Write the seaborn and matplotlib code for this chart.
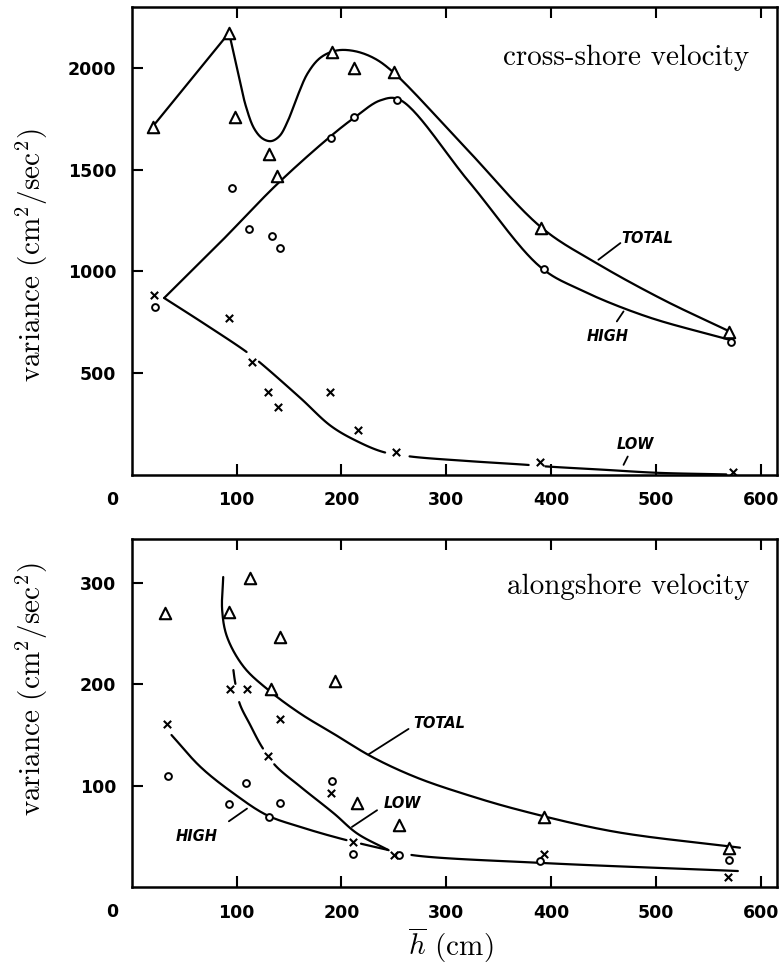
import numpy as np
import pandas as pd
import matplotlib
matplotlib.use("Agg")
import matplotlib.pyplot as plt
import seaborn as sns

# ---------------- data ----------------
# cross-shore velocity: measured variances
cs_tot_h = [20, 93, 99, 131, 139, 191, 212, 250, 390, 570]
cs_tot_v = [1711, 2173, 1760, 1578, 1470, 2080, 2001, 1978, 1214, 703]
cs_high_h = [22, 96, 112, 134, 141, 190, 212, 253, 393, 571]
cs_high_v = [826, 1411, 1209, 1175, 1116, 1657, 1760, 1843, 1012, 654]
cs_low_h = [21, 93, 115, 130, 140, 189, 216, 252, 389, 573]
cs_low_v = [885, 772, 556, 408, 334, 408, 221, 113, 64, 15]

# cross-shore hand-drawn curves (knots)
cs_tot_line_a_h = [20, 93]
cs_tot_line_a_v = [1711, 2173]
cs_tot_line_b_h = [93, 101, 109, 117, 125, 133, 141, 149, 158, 168, 180, 195, 212, 231, 250, 320, 391, 443, 507, 570]
cs_tot_line_b_v = [2170, 1985, 1810, 1700, 1652, 1640, 1665, 1740, 1860, 1975, 2050, 2085, 2083, 2048, 1976, 1598, 1214, 1041, 860, 705]
cs_high_line_h = [31, 85, 139, 189.5, 213, 237, 255, 322, 390, 428, 491, 570]
cs_high_line_v = [869, 1145, 1430, 1663, 1758, 1840, 1845, 1438, 1020, 909, 778, 664]
cs_low_line_h = [31, 70, 109, 123, 161, 190, 215, 240, 266, 320, 377, 396, 450, 501, 567]
cs_low_line_v = [869, 740, 606, 549, 377, 240, 165, 112, 90, 68, 49, 41, 25, 10, 2]
cs_low_gaps = [(110, 121), (242, 264), (379, 394)]

# alongshore velocity: measured variances
as_tot_h = [32, 93, 113, 133, 141, 194, 215, 255, 393, 570]
as_tot_v = [270, 271, 305, 195, 247, 203, 83, 61, 69, 39]
as_high_h = [35, 93, 109, 131, 141, 191, 211, 255, 389, 570]
as_high_v = [110, 82, 103, 69, 83, 105, 33, 32, 26, 27]
as_low_h = [34, 94, 110, 130, 141, 190, 211, 250, 393, 569]
as_low_v = [161, 195, 195, 129, 166, 93, 45, 32, 33, 10]

# alongshore hand-drawn curves (knots)
as_tot_line_h = [87.3, 86.3, 91, 107, 130.8, 161, 193, 230, 272, 320, 370, 459, 580]
as_tot_line_v = [305.7, 273, 246.6, 217, 194, 171, 151, 128, 108, 91, 76, 55, 39]
as_high_line_h = [38, 65.7, 97.4, 129, 161, 199, 243.5, 269, 390, 578]
as_high_line_v = [150, 118.5, 92.3, 71, 59.4, 48, 37, 31.5, 24, 16]
as_high_gaps = [(205, 218), (245, 266)]
as_low_line_h = [97, 98.5, 103, 113, 124.4, 137, 161, 193, 215, 245]
as_low_line_v = [214, 203, 181, 160, 138, 120, 99, 72.6, 53, 36.5]
as_low_gaps = [(99, 102.5), (125.5, 135.5)]

x_ticks = [100, 200, 300, 400, 500, 600]
cs_y_ticks = [500, 1000, 1500, 2000]
as_y_ticks = [100, 200, 300]

# ---------------- style ----------------
sns.set_theme(style="ticks")
plt.rcParams["font.family"] = ["DejaVu Sans"]
plt.rcParams["mathtext.fontset"] = "cm"
plt.rcParams["text.color"] = "black"

SERIF = "cmr10"
SERIF_SIZE = 21
TICKFONT = dict(family="DejaVu Sans", weight="bold", size=12.5, color="black")
LABFONT = dict(family="DejaVu Sans", weight="bold", style="italic", size=10.5, color="black")

XMAX = 615
AX_W_PX = 0.828 * 779


def catmull(xs, ys, sx, sy, n=30, alpha=0.5):
    P = np.column_stack([np.asarray(xs, float) * sx, np.asarray(ys, float) * sy])
    P = np.vstack([2 * P[0] - P[1], P, 2 * P[-1] - P[-2]])
    out = []
    for i in range(1, len(P) - 2):
        p0, p1, p2, p3 = P[i - 1], P[i], P[i + 1], P[i + 2]
        t0 = 0.0
        t1 = t0 + max(np.linalg.norm(p1 - p0), 1e-6) ** alpha
        t2 = t1 + max(np.linalg.norm(p2 - p1), 1e-6) ** alpha
        t3 = t2 + max(np.linalg.norm(p3 - p2), 1e-6) ** alpha
        t = np.linspace(t1, t2, n, endpoint=False)[:, None]
        a1 = (t1 - t) / (t1 - t0) * p0 + (t - t0) / (t1 - t0) * p1
        a2 = (t2 - t) / (t2 - t1) * p1 + (t - t1) / (t2 - t1) * p2
        a3 = (t3 - t) / (t3 - t2) * p2 + (t - t2) / (t3 - t2) * p3
        b1 = (t2 - t) / (t2 - t0) * a1 + (t - t0) / (t2 - t0) * a2
        b2 = (t3 - t) / (t3 - t1) * a2 + (t - t1) / (t3 - t1) * a3
        c = (t2 - t) / (t2 - t1) * b1 + (t - t1) / (t2 - t1) * b2
        out.append(c)
    out.append(P[-2][None, :])
    pts = np.vstack(out)
    return pts[:, 0] / sx, pts[:, 1] / sy


def draw_curve(ax, xs, ys, gaps=()):
    ymax = ax.get_ylim()[1]
    h_px = ax.get_position().height * 975
    sx = AX_W_PX / XMAX
    sy = h_px / ymax
    px, py = catmull(xs, ys, sx, sy)
    keep = np.ones(len(px), bool)
    for a, b in gaps:
        keep &= ~((px > a) & (px < b))
    ids = np.cumsum(~keep)
    df = pd.DataFrame({"h": px[keep], "v": py[keep], "seg": ids[keep]})
    sns.lineplot(data=df, x="h", y="v", units="seg", estimator=None, sort=False,
                 color="black", lw=1.6, ax=ax, legend=False)


def draw_points(ax, h, v, kind):
    df = pd.DataFrame({"h": h, "v": v})
    if kind == "tri":
        sns.scatterplot(data=df, x="h", y="v", marker="^", s=68, facecolor="white",
                        edgecolor="black", linewidth=1.5, ax=ax, zorder=5)
    elif kind == "cir":
        sns.scatterplot(data=df, x="h", y="v", marker="o", s=24, facecolor="white",
                        edgecolor="black", linewidth=1.4, ax=ax, zorder=5)
    else:
        sns.scatterplot(data=df, x="h", y="v", marker="x", s=28, color="black",
                        linewidth=1.5, ax=ax, zorder=5)


def label(ax, text, tx, ty, p0, p1):
    ax.annotate("", xy=p0, xytext=p1, arrowprops=dict(arrowstyle="-", lw=1.3, color="black",
                                                       shrinkA=0, shrinkB=0))
    ax.text(tx, ty, text, ha="left", va="center", **LABFONT)


def style_axes(ax, yticks):
    ax.set_xticks(x_ticks)
    ax.set_yticks(yticks)
    ax.set_xticklabels([str(t) for t in x_ticks], **TICKFONT)
    ax.set_yticklabels([str(t) for t in yticks], **TICKFONT)
    ax.tick_params(axis="both", direction="in", length=8, width=1.5, color="black")
    ax.tick_params(axis="x", top=True, pad=12)
    ax.tick_params(axis="y", pad=11)
    for s in ax.spines.values():
        s.set_visible(True)
        s.set_linewidth(1.8)
        s.set_color("black")
    ax.set_xlabel("")
    ax.set_ylabel("")
    ax.annotate("0", xy=(0, 0), xycoords="axes fraction", xytext=(-19, -25),
                textcoords="offset pixels", ha="center", va="center", **TICKFONT)


fig = plt.figure(figsize=(7.79, 9.75), dpi=100)
ax1 = fig.add_axes([0.169, 0.513, 0.828, 0.480])
ax2 = fig.add_axes([0.169, 0.090, 0.828, 0.357])
ax1.set_xlim(0, XMAX)
ax1.set_ylim(0, 2300)
ax2.set_xlim(0, XMAX)
ax2.set_ylim(0, 343)

# ---- top: cross-shore ----
draw_curve(ax1, cs_tot_line_a_h, cs_tot_line_a_v)
draw_curve(ax1, cs_tot_line_b_h, cs_tot_line_b_v)
draw_curve(ax1, cs_high_line_h, cs_high_line_v)
draw_curve(ax1, cs_low_line_h, cs_low_line_v, cs_low_gaps)
draw_points(ax1, cs_tot_h, cs_tot_v, "tri")
draw_points(ax1, cs_high_h, cs_high_v, "cir")
draw_points(ax1, cs_low_h, cs_low_v, "x")
ax1.set_xlim(0, XMAX)
ax1.set_ylim(0, 2300)
style_axes(ax1, cs_y_ticks)
ax1.text(589, 2050, "cross-shore velocity", ha="right", va="center", family=SERIF,
         fontsize=SERIF_SIZE, color="black")
label(ax1, "TOTAL", 467, 1160, (445, 1057), (466, 1139))
label(ax1, "HIGH", 434, 680, (462.6, 754), (469, 803))
label(ax1, "LOW", 462, 150, (469, 49), (473, 90))

# ---- bottom: alongshore ----
draw_curve(ax2, as_tot_line_h, as_tot_line_v)
draw_curve(ax2, as_high_line_h, as_high_line_v, as_high_gaps)
draw_curve(ax2, as_low_line_h, as_low_line_v, as_low_gaps)
draw_points(ax2, as_tot_h, as_tot_v, "tri")
draw_points(ax2, as_high_h, as_high_v, "cir")
draw_points(ax2, as_low_h, as_low_v, "x")
ax2.set_xlim(0, XMAX)
ax2.set_ylim(0, 343)
style_axes(ax2, as_y_ticks)
ax2.text(589, 296, "alongshore velocity", ha="right", va="center", family=SERIF,
         fontsize=SERIF_SIZE, color="black")
label(ax2, "TOTAL", 269, 161, (226, 131), (264, 156))
label(ax2, "HIGH", 42, 50, (92.7, 65), (110, 77.5))
label(ax2, "LOW", 240, 83, (210, 59.4), (234, 75.9))

ylab = "variance (cm$^2$/sec$^2$)"
fig.text(0.041, 0.738, ylab, rotation=90, ha="center", va="center", family=SERIF,
         fontsize=SERIF_SIZE, color="black")
fig.text(0.041, 0.293, ylab, rotation=90, ha="center", va="center", family=SERIF,
         fontsize=SERIF_SIZE, color="black")
fig.text(0.579, 0.030, r"$\overline{h}$ (cm)", ha="center", va="center", family=SERIF,
         fontsize=SERIF_SIZE, color="black")

fig.savefig("out.png", dpi=100)
